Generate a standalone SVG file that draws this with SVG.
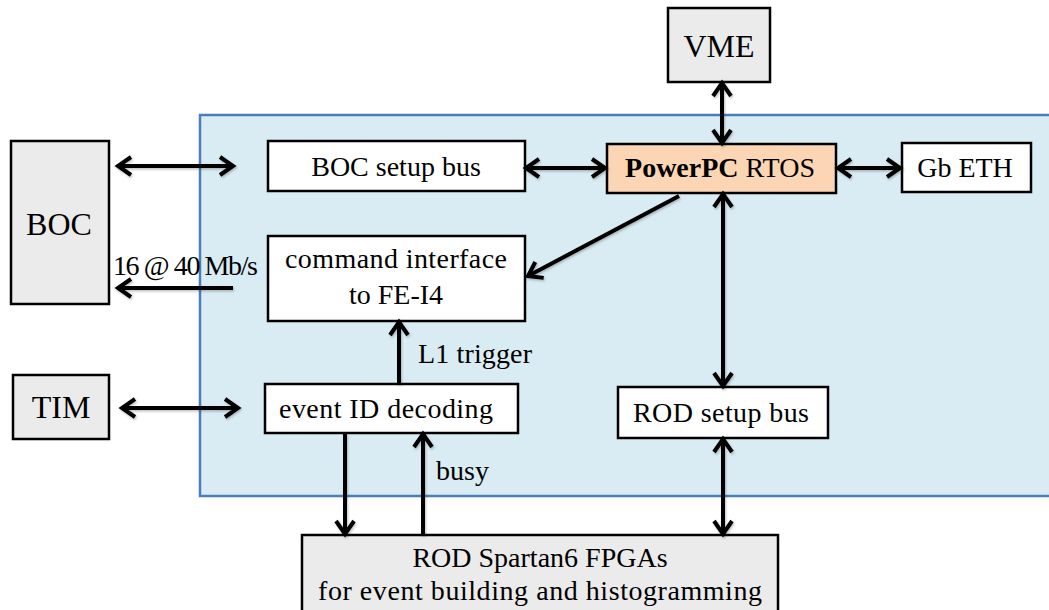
<svg xmlns="http://www.w3.org/2000/svg" width="1049" height="610" viewBox="0 0 1049 610">
  <defs>
    <style>
      .box { stroke: #000; stroke-width: 2.5; }
      .white { fill: #ffffff; }
      .gray { fill: #ebebeb; }
      .cpu { fill: #fcd5b4; }
      .lbl { font-family: 'Liberation Serif', 'DejaVu Serif', serif; font-size: 28px; fill: #000; }
      .big { font-size: 32px; }
      .mid { text-anchor: middle; }
      .wire { stroke: #000; stroke-width: 4; fill: none; }
    </style>
    <marker id="head" markerUnits="userSpaceOnUse" viewBox="-18 -12 22 24" markerWidth="22" markerHeight="24" refX="0" refY="0" orient="auto-start-reverse">
      <path d="M-13,-9 L0,0 L-13,9" fill="none" stroke="#000" stroke-width="4" stroke-linejoin="miter"/>
    </marker>
    <filter id="soft" x="-10%" y="-10%" width="120%" height="120%">
      <feDropShadow dx="1" dy="1.5" stdDeviation="1.2" flood-color="#000" flood-opacity="0.25"/>
    </filter>
  </defs>

  <rect width="1049" height="610" fill="#ffffff"/>

  <!-- ROD board area -->
  <g id="rod-board">
    <rect x="200" y="115" width="860" height="381" fill="#daecf3" stroke="#4a7ebb" stroke-width="2.5"/>
  </g>

  <g font-family="Liberation Serif, DejaVu Serif, serif">
  <!-- external modules -->
  <g id="vme">
    <rect class="box gray" x="668" y="8" width="102" height="74"/>
    <text class="lbl big mid" x="719" y="57">VME</text>
  </g>
  <g id="boc">
    <rect class="box gray" x="11" y="141" width="98" height="163"/>
    <text class="lbl big mid" x="59" y="235">BOC</text>
  </g>
  <g id="tim">
    <rect class="box gray" x="13" y="375" width="96" height="64"/>
    <text class="lbl big mid" x="61" y="418">TIM</text>
  </g>
  <g id="spartan">
    <rect class="box gray" x="302" y="535" width="476" height="90"/>
    <text class="lbl mid" x="540" y="567">ROD Spartan6 FPGAs</text>
    <text class="lbl mid" x="540" y="600" textLength="444" lengthAdjust="spacing">for event building and histogramming</text>
  </g>

  <!-- on-board blocks -->
  <g id="boc-setup-bus">
    <rect class="box white" x="268" y="141" width="257" height="50"/>
    <text class="lbl mid" x="396" y="176">BOC setup bus</text>
  </g>
  <g id="powerpc">
    <rect class="box cpu" x="607" y="144" width="229" height="49"/>
    <text class="lbl mid" x="720" y="177"><tspan font-weight="bold">PowerPC</tspan> RTOS</text>
  </g>
  <g id="gb-eth">
    <rect class="box white" x="902" y="143" width="129" height="49"/>
    <text class="lbl mid" x="965" y="177">Gb ETH</text>
  </g>
  <g id="command-interface">
    <rect class="box white" x="268" y="236" width="257" height="85"/>
    <text class="lbl mid" x="396" y="268" textLength="222" lengthAdjust="spacing">command interface</text>
    <text class="lbl mid" x="396" y="304">to FE-I4</text>
  </g>
  <g id="event-id">
    <rect class="box white" x="265" y="384" width="253" height="49"/>
    <text class="lbl" x="279" y="418" textLength="214" lengthAdjust="spacing">event ID decoding</text>
  </g>
  <g id="rod-setup-bus">
    <rect class="box white" x="618" y="387" width="210" height="51"/>
    <text class="lbl" x="633" y="422" textLength="176" lengthAdjust="spacing">ROD setup bus</text>
  </g>
  </g>

  <!-- connectors -->
  <g id="connectors" filter="url(#soft)">
    <line class="wire" x1="118" y1="166" x2="233" y2="166" marker-start="url(#head)" marker-end="url(#head)"/>
    <line class="wire" x1="233" y1="288" x2="118" y2="288" marker-end="url(#head)"/>
    <line class="wire" x1="526" y1="168" x2="605" y2="168" marker-start="url(#head)" marker-end="url(#head)"/>
    <line class="wire" x1="838" y1="168" x2="900" y2="168" marker-start="url(#head)" marker-end="url(#head)"/>
    <line class="wire" x1="722" y1="83" x2="722" y2="143" marker-start="url(#head)" marker-end="url(#head)"/>
    <line class="wire" x1="679" y1="196" x2="528" y2="276" marker-end="url(#head)"/>
    <line class="wire" x1="723" y1="194" x2="723" y2="386" marker-start="url(#head)" marker-end="url(#head)"/>
    <line class="wire" x1="723" y1="439" x2="723" y2="534" marker-start="url(#head)" marker-end="url(#head)"/>
    <line class="wire" x1="399" y1="384" x2="399" y2="322" marker-end="url(#head)"/>
    <line class="wire" x1="345" y1="434" x2="345" y2="534" marker-end="url(#head)"/>
    <line class="wire" x1="423" y1="535" x2="423" y2="434" marker-end="url(#head)"/>
    <line class="wire" x1="122" y1="408" x2="238" y2="408" marker-start="url(#head)" marker-end="url(#head)"/>
  </g>

  <!-- connector labels -->
  <g id="connector-labels" font-family="Liberation Serif, DejaVu Serif, serif">
    <text class="lbl" x="113" y="275" font-size="23" textLength="145" lengthAdjust="spacing">16 @ 40 Mb/s</text>
    <text class="lbl" x="418" y="363" textLength="114" lengthAdjust="spacing">L1 trigger</text>
    <text class="lbl" x="436" y="480" font-size="31">busy</text>
  </g>
</svg>
